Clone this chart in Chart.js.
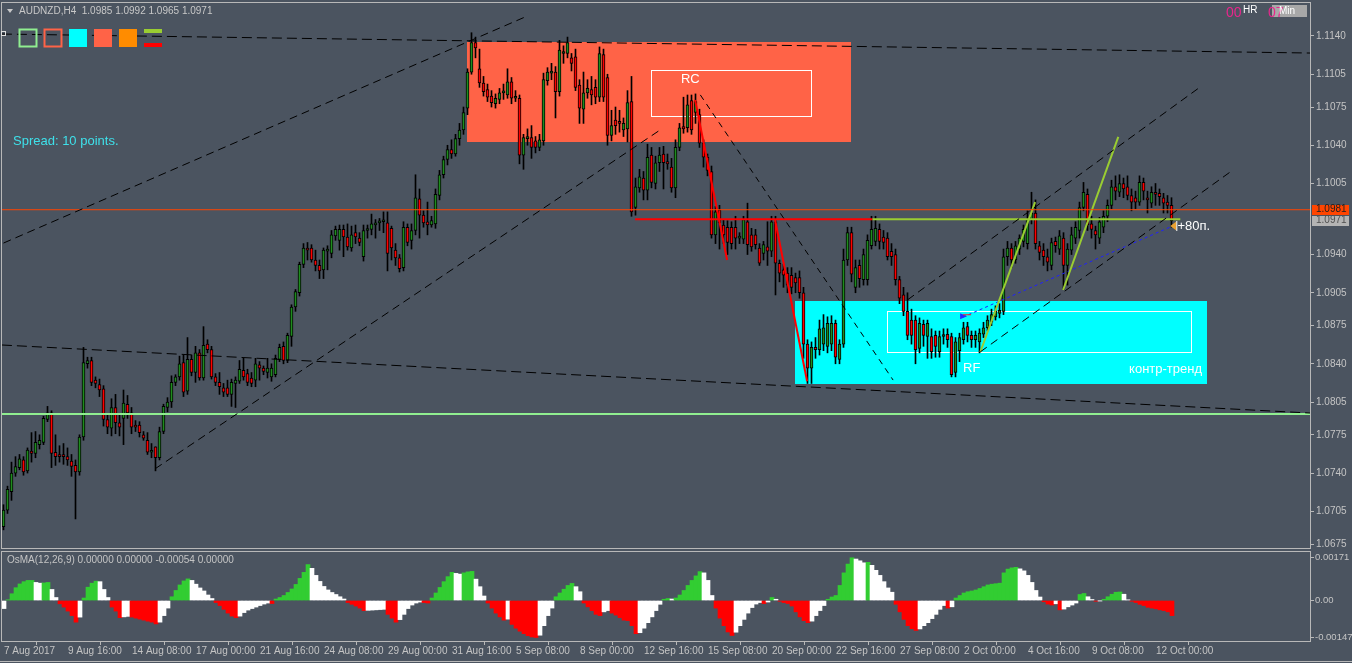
<!DOCTYPE html>
<html>
<head>
<meta charset="utf-8">
<script src="https://cdn.jsdelivr.net/npm/chart.js@4.4.1/dist/chart.umd.min.js"></script>
<style>
  html, body { margin: 0; padding: 0; background: #4b5460; overflow: hidden; }
  #wrap { position: relative; width: 1352px; height: 663px; }
  canvas { position: absolute; left: 0; }
  #main { top: 0; }
  #osma { top: 550px; }
</style>
</head>
<body>
<div id="wrap">
  <canvas id="main" width="1352" height="550"></canvas>
  <canvas id="osma" width="1352" height="113"></canvas>
</div>
<script>
// AUDNZD H4 candles, prices in points above 1.0000 (1.0691 -> 691)
const opens = [
  691,706,723,740,745,752,742,760,758,766, 768,789,795,759,757,756,755,751,747,741,
  773,840,843,825,821,817,789,781,800,786, 790,803,795,784,784,775,770,759,764,754,
  778,800,805,823,828,841,815,844,832,850, 827,858,853,828,823,818,818,812,822,824,
  834,831,827,825,839,836,832,828,830,844, 856,843,865,892,905,931,946,946,935,930,
  926,943,941,957,953,963,956,946,960,955, 938,962,963,967,969,970,969,964,944,937,
  928,965,953,962,991,976,970,967,968,994, 1013,1027,1036,1032,1046,1054,1074,1107,1134,1110,
  1097,1091,1085,1078,1082,1088,1086,1098,1083,1083, 1031,1046,1047,1044,1038,1044,1099,1106,1107,1089,
  1124,1124,1120,1121,1095,1073,1088,1091,1093,1084, 1123,1102,1049,1063,1061,1054,1055,1080,983,1001,
  1010,999,1031,1005,1024,1032,1025,1020,1001,1038, 1057,1056,1081,1070,1068,1042,1029,1016,958,981,
  967,965,965,965,955,954,970,958,958,946, 941,947,943,970,932,926,923,921,919,919,
  905,858,836,855,853,858,856,858,877,844, 858,935,960,910,930,917,917,948,952,963,
  956,955,943,940,917,903,888,880,880,854, 876,865,865,866,851,865,867,865,832,852,
  862,874,866,862,860,867,873,878,883,886, 888,938,946,935,945,952,950,972,978,948,
  944,938,930,952,945,955,930,944,955,962, 983,995,968,962,955,965,975,985,1002,997,
  1005,1002,994,992,988,1006,992,987,997,996, 992,988,985
];
const highs = [
  711,728,750,755,757,755,763,777,778,775, 792,801,797,775,765,767,763,757,752,775,
  855,846,846,828,826,820,793,808,812,793, 816,811,800,788,787,778,777,767,764,782,
  803,809,829,830,847,848,864,848,856,853, 874,862,856,831,832,822,825,826,828,843,
  845,835,832,845,842,838,845,840,848,858, 860,868,894,908,933,950,951,949,944,935,
  946,948,962,966,967,967,968,966,967,960, 967,967,977,972,973,979,979,966,950,940,
  970,968,968,1013,1000,980,988,975,1000,1017, 1030,1040,1045,1050,1060,1075,1110,1143,1139,1128,
  1103,1096,1090,1087,1092,1096,1110,1102,1090,1086, 1050,1055,1058,1048,1050,1106,1111,1115,1112,1136,
  1131,1139,1124,1128,1100,1107,1100,1103,1100,1130, 1128,1105,1072,1075,1072,1065,1090,1103,1010,1018,
  1016,1041,1038,1030,1038,1039,1032,1028,1045,1060, 1084,1086,1086,1087,1073,1045,1032,1021,984,985,
  972,971,970,975,960,975,987,964,963,950, 952,970,975,975,935,931,928,928,923,925,
  910,862,860,864,880,885,883,884,880,862, 945,965,965,935,935,945,958,975,975,968,
  962,960,950,945,920,910,905,890,884,882, 880,880,872,870,870,872,872,868,864,868,
  878,878,870,870,872,878,884,890,893,895, 945,952,950,952,958,967,980,997,990,952,
  950,945,955,956,962,960,950,965,970,988, 1006,1000,975,966,974,980,990,1008,1012,1013,
  1010,1012,1000,998,1012,1010,998,1002,1005,1000, 996,994,992
];
const lows = [
  688,703,715,737,743,738,740,750,754,762, 766,787,745,747,750,748,747,737,698,738,
  770,836,820,818,810,783,776,774,776,774, 766,790,776,778,773,770,757,754,742,752,
  776,796,800,820,825,810,812,829,823,825, 825,850,826,820,812,810,810,801,800,822,
  825,820,819,819,825,830,827,824,828,842, 840,841,856,888,902,928,935,933,925,918,
  918,926,937,953,944,938,944,943,950,948, 934,955,958,955,962,960,925,935,930,924,
  925,948,945,958,955,965,958,965,964,990, 1010,1022,1028,1030,1040,1050,1068,1105,1120,1093,
  1085,1080,1075,1074,1078,1082,1083,1078,1080,1023, 1018,1040,1028,1033,1035,1040,1095,1100,1065,1085,
  1115,1120,1108,1090,1060,1060,1083,1077,1078,1080, 1080,1040,1044,1050,1052,1048,1043,975,976,997,
  990,990,1001,1000,1016,1000,1018,997,992,1035, 1051,1052,1050,1060,1038,1020,1012,955,950,945,
  950,940,945,945,950,950,940,943,945,930, 935,930,938,903,915,910,905,904,905,900,
  845,822,822,845,848,852,850,852,840,840, 855,930,915,905,910,912,912,945,948,945,
  945,935,930,912,895,884,862,858,840,850, 856,845,845,846,846,858,855,828,828,842,
  858,860,855,855,850,864,870,875,880,882, 885,930,928,932,940,947,945,968,945,935,
  930,925,926,942,940,908,912,940,950,955, 980,962,955,945,950,960,970,982,990,993,
  992,990,980,982,985,990,978,983,985,985, 978,978,965
];
const closes = [
  706,725,740,746,753,741,761,758,768,770, 790,795,758,755,755,755,752,746,741,773,
  841,843,823,822,816,789,782,800,786,782, 804,795,782,782,777,772,759,760,754,778,
  801,805,823,828,840,814,844,832,850,827, 857,853,828,823,819,814,812,823,825,835,
  828,823,822,840,836,833,836,836,845,855, 843,866,892,906,931,946,944,935,930,925,
  944,945,958,963,963,956,947,958,956,951, 962,963,968,969,970,970,941,946,937,927,
  965,951,962,992,976,969,967,971,995,1013, 1027,1036,1032,1046,1054,1070,1107,1134,1129,1097,
  1089,1084,1079,1083,1088,1088,1098,1083,1084,1031, 1047,1048,1038,1038,1045,1100,1107,1108,1089,1127,
  1125,1134,1115,1093,1074,1088,1092,1086,1084,1124, 1084,1049,1058,1058,1060,1060,1079,979,1002,1011,
  999,1029,1006,1024,1031,1024,1023,1001,1038,1056, 1055,1077,1054,1080,1042,1029,1017,958,979,969,
  958,951,950,955,956,972,949,947,949,932, 949,943,970,932,923,921,912,910,914,905,
  858,836,855,853,872,873,877,877,846,858, 935,960,922,928,918,940,953,963,964,952,
  951,938,938,917,900,888,866,866,853,877, 866,877,851,856,865,866,862,830,860,864,
  873,866,862,866,868,873,880,885,888,889, 938,946,935,948,955,963,972,978,950,942,
  938,933,951,948,957,930,945,958,965,983, 997,967,963,958,970,975,985,1002,998,1005,
  1000,994,988,988,1006,998,990,997,995,993, 987,985,971
];

// OsMA(12,26,9) histogram, in units of 0.00001
const osma = [
  -32,3,27,51,66,75,80,80,72,69, 70,72,44,12,-13,-26,-42,-60,-86,-66,
  10,53,69,77,75,44,12,-26,-42,-68, -65,-63,-66,-70,-74,-78,-82,-86,-93,-86,
  -60,-30,15,40,62,78,86,80,65,50, 38,22,8,-8,-20,-35,-50,-62,-68,-62,
  -48,-38,-32,-26,-20,-14,-10,-12,6,12, 20,32,46,64,88,112,143,128,100,76,
  56,42,32,24,15,6,-8,-15,-22,-30, -40,-39,-38,-37,-36,-35,-55,-70,-86,-76,
  -55,-32,-18,-10,-6,-8,-10,10,30,52, 75,95,112,108,105,110,114,116,85,55,
  18,-10,-30,-50,-65,-78,-74,-95,-110,-122, -132,-140,-145,-147,-138,-100,-60,-30,15,30,
  45,60,68,55,35,-10,-25,-40,-55,-60, -45,-40,-50,-58,-68,-78,-80,-100,-132,-128,
  -110,-88,-65,-40,-15,5,8,6,10,22, 40,60,80,98,115,110,80,20,-30,-70,
  -100,-125,-139,-126,-100,-75,-50,-28,-14,-8, -12,-6,12,5,-3,-8,-12,-22,-45,-65,
  -80,-88,-82,-60,-40,-20,5,14,20,60, 110,145,170,165,158,150,152,140,120,100,
  75,50,33,-15,-45,-75,-100,-112,-119,-113, -100,-88,-72,-55,-35,-20,-30,-25,10,20,
  30,35,38,42,48,55,62,65,67,69, 110,125,130,132,126,118,100,72,40,14,
  -5,-14,-18,-13,-37,-34,-25,-18,-10,24, 28,15,4,-3,-1,5,15,25,33,34,
  25,3,-3,-8,-15,-20,-27,-30,-33,-37, -40,-45,-60
];

// time axis: bar index of each label and its text
const timeTickBars = [0,16,32,48,64,80,96,112,128,144,160,176,192,208,224,240,256,272,288];
const timeTickLabels = ['7 Aug 2017','9 Aug 16:00','14 Aug 08:00','17 Aug 00:00','21 Aug 16:00',
  '24 Aug 08:00','29 Aug 00:00','31 Aug 16:00','5 Sep 08:00','8 Sep 00:00','12 Sep 16:00',
  '15 Sep 08:00','20 Sep 00:00','22 Sep 16:00','27 Sep 08:00','2 Oct 00:00','4 Oct 16:00',
  '9 Oct 08:00','12 Oct 00:00'];
const priceTicks = [1.1140,1.1105,1.1075,1.1040,1.1005,1.0940,1.0905,1.0875,1.0840,1.0805,1.0775,1.0740,1.0705,1.0675];
const osmaTicks = [0.00171, 0, -0.00147];
const osmaTickLabels = ['0.00171', '0.00', '-0.00147'];

// objects drawn on the chart, as [bar index, points] pairs
const zones = [
  { x0: 115.9, x1: 211.9, p0: 1134.5, p1: 1043.0, fill: '#ff6347' },
  { x0: 197.9, x1: 300.9, p0: 897.4, p1: 821.5, fill: '#00ffff' }
];
const frames = [
  { x0: 161.9, x1: 201.9, p0: 1108.9, p1: 1066.8 },
  { x0: 220.9, x1: 296.9, p0: 888.3, p1: 850.8 }
];
const drawnLines = [
  { pts: [[-0.4, 1141.8], [326.7, 1124.4]], color: '#000000', width: 1, dash: [10, 5] },
  { pts: [[0, 950.5], [130.4, 1157.4]], color: '#000000', width: 1, dash: [8, 5] },
  { pts: [[-0.4, 857.2], [326.7, 794.9]], color: '#000000', width: 1, dash: [10, 5] },
  { pts: [[37.9, 743.9], [164.2, 1054.1]], color: '#000000', width: 1, dash: [8, 5] },
  { pts: [[174.2, 1086.1], [222.4, 825.1]], color: '#000000', width: 1, dash: [6, 5] },
  { pts: [[226, 898.5], [299.2, 1093.4]], color: '#000000', width: 1, dash: [8, 5] },
  { pts: [[244.2, 850.9], [306.7, 1015.6]], color: '#000000', width: 1, dash: [8, 5] },
  { pts: [[-0.4, 981], [326.7, 981]], color: '#ff4500', width: 1 },
  { pts: [[-0.4, 794.0], [326.7, 794.0]], color: '#90ee90', width: 2 },
  { pts: [[157.9, 972.3], [217.2, 972.3]], color: '#ff0000', width: 2 },
  { pts: [[217.2, 972.3], [294.2, 972.3]], color: '#9acd32', width: 2 },
  { pts: [[172.9, 1081.4], [180.9, 935]], color: '#ff0000', width: 2 },
  { pts: [[192.9, 971.6], [200.9, 824]], color: '#ff0000', width: 2 },
  { pts: [[244.2, 850.8], [257.9, 988.0]], color: '#9acd32', width: 2 },
  { pts: [[264.9, 907.5], [278.7, 1047.6]], color: '#9acd32', width: 2 },
  { pts: [[239.9, 882.8], [291.7, 965.2]], color: '#2020ff', width: 1, dash: [3, 3] }
];
const chartTexts = [
  { text: 'RC', bar: 171.7, p: 1100.7, align: 'center' },
  { text: 'RF', bar: 239.9, p: 836.1, align: 'left' },
  { text: 'контр-тренд', bar: 281.4, p: 835.2, align: 'left' },
  { text: '+80п.', bar: 293.5, p: 966.1, align: 'left' }
];

const toPrice = p => 1 + p / 10000;
const fontUI = '"Liberation Sans", Arial, sans-serif';
const axisText = '#c4c4c4';
const frameColor = '#b8b8b8';
Chart.defaults.font.family = fontUI;

const wicks = highs.map((h, i) => ({ x: i, y: [toPrice(lows[i]), toPrice(h)] }));
const bodies = opens.map((o, i) => ({ x: i, y: [toPrice(Math.min(o, closes[i])), toPrice(Math.max(o, closes[i]))] }));
const bodyColors = opens.map((o, i) => closes[i] >= o ? '#1e8c1e' : '#ff0000');

const lineDatasets = drawnLines.map(l => ({
  type: 'line',
  data: l.pts.map(([x, p]) => ({ x, y: toPrice(p) })),
  borderColor: l.color,
  borderWidth: l.width,
  borderDash: l.dash || [],
  pointRadius: 0,
  fill: false,
  order: 1
}));

// axes must not add room for their end labels: the panels keep MT4's exact frame
const noLabelPadding = s => { s.paddingTop = 0; s.paddingBottom = 0; s.paddingLeft = 0; s.paddingRight = 0; };

function text(ctx, s, x, y, color, size, align) {
  ctx.font = size + 'px ' + fontUI;
  ctx.fillStyle = color;
  ctx.textAlign = align || 'left';
  ctx.textBaseline = 'middle';
  ctx.fillText(s, x, y);
}

const mainDecor = {
  id: 'mainDecor',
  beforeDatasetsDraw(chart) {
    const { ctx, chartArea: a, scales: { x, y } } = chart;
    ctx.save();
    ctx.beginPath();
    ctx.rect(a.left, a.top, a.right - a.left, a.bottom - a.top);
    ctx.clip();
    zones.forEach(z => {
      const l = x.getPixelForValue(z.x0), r = x.getPixelForValue(z.x1);
      const t = y.getPixelForValue(toPrice(z.p0)), b = y.getPixelForValue(toPrice(z.p1));
      ctx.fillStyle = z.fill;
      ctx.fillRect(Math.round(l), Math.round(t), Math.round(r - l), Math.round(b - t));
    });
    ctx.strokeStyle = '#ffffff';
    ctx.lineWidth = 1;
    frames.forEach(f => {
      const l = x.getPixelForValue(f.x0), r = x.getPixelForValue(f.x1);
      const t = y.getPixelForValue(toPrice(f.p0)), b = y.getPixelForValue(toPrice(f.p1));
      ctx.strokeRect(Math.round(l) + 0.5, Math.round(t) + 0.5, Math.round(r - l), Math.round(b - t));
    });
    ctx.restore();
  },
  afterDatasetsDraw(chart) {
    const { ctx, scales: { x, y } } = chart;
    ctx.save();
    chartTexts.forEach(t => text(ctx, t.text, x.getPixelForValue(t.bar), y.getPixelForValue(toPrice(t.p)), '#ffffff', 13, t.align));
    // arrow next to +80
    const ax = x.getPixelForValue(292.2), ay = y.getPixelForValue(toPrice(966.1));
    ctx.beginPath();
    ctx.moveTo(ax - 2, ay);
    ctx.lineTo(ax + 4, ay - 4.5);
    ctx.lineTo(ax + 4, ay + 4.5);
    ctx.closePath();
    ctx.fillStyle = '#e8a030';
    ctx.fill();
    ctx.strokeStyle = '#ffffff';
    ctx.beginPath();
    ctx.moveTo(ax + 4.5, ay - 5);
    ctx.lineTo(ax + 4.5, ay + 5);
    ctx.stroke();
    // small arrow at start of the blue line
    const bx = x.getPixelForValue(239.9), by = y.getPixelForValue(toPrice(883.5));
    ctx.fillStyle = '#2030ff';
    ctx.beginPath();
    ctx.moveTo(bx - 3, by - 3);
    ctx.lineTo(bx + 4, by);
    ctx.lineTo(bx - 3, by + 3);
    ctx.closePath();
    ctx.fill();
    ctx.strokeStyle = '#ff2020';
    ctx.beginPath();
    ctx.moveTo(bx, by - 1.5);
    ctx.lineTo(bx + 8, by - 1.5);
    ctx.stroke();
    ctx.restore();
  },
  afterDraw(chart) {
    const { ctx, chartArea: a, scales: { y } } = chart;
    ctx.save();
    ctx.strokeStyle = frameColor;
    ctx.lineWidth = 1;
    ctx.strokeRect(a.left - 0.5, a.top - 0.5, a.right - a.left + 1, a.bottom - a.top + 1);

    // header
    ctx.fillStyle = '#c8c8c8';
    ctx.beginPath();
    ctx.moveTo(7, 9); ctx.lineTo(13, 9); ctx.lineTo(10, 13); ctx.closePath();
    ctx.fill();
    text(ctx, 'AUDNZD,H4  1.0985 1.0992 1.0965 1.0971', 19, 11, '#c8c8c8', 10);

    // object palette
    ctx.lineWidth = 2;
    ctx.strokeStyle = '#90ee90'; ctx.strokeRect(19.5, 29.5, 17, 17);
    ctx.strokeStyle = '#ff6347'; ctx.strokeRect(44.5, 29.5, 17, 17);
    ctx.fillStyle = '#00ffff'; ctx.fillRect(69, 29, 18, 18);
    ctx.fillStyle = '#ff6347'; ctx.fillRect(94, 29, 18, 18);
    ctx.fillStyle = '#ff8c00'; ctx.fillRect(119, 29, 18, 18);
    ctx.fillStyle = '#9acd32'; ctx.fillRect(144, 29, 18, 4);
    ctx.fillStyle = '#ff0000'; ctx.fillRect(144, 43, 18, 4);
    ctx.lineWidth = 1;
    ctx.strokeStyle = '#dddddd'; ctx.strokeRect(1.5, 31.5, 4, 4);

    text(ctx, 'Spread: 10 points.', 13, 141, '#3ee0ea', 13);

    // clock
    ctx.fillStyle = '#a8a8a8'; ctx.fillRect(1272, 5, 35, 12);
    text(ctx, '00', 1226, 13, '#e8268c', 14);
    text(ctx, 'HR', 1243, 10, '#ffffff', 10);
    text(ctx, '07', 1268, 13, '#e8268c', 14);
    text(ctx, 'Min', 1279, 11, '#ffffff', 10);

    // price tags on the axis
    const y1 = y.getPixelForValue(1.0981);
    ctx.fillStyle = '#ff4500'; ctx.fillRect(1312, Math.round(y1) - 5, 37, 10);
    text(ctx, '1.0981', 1316, y1, '#202020', 10);
    const y2 = y.getPixelForValue(1.0971);
    ctx.fillStyle = '#b4b4b4'; ctx.fillRect(1312, Math.round(y2) - 5, 37, 10);
    text(ctx, '1.0971', 1316, y2, '#505050', 10);
    ctx.restore();
  }
};

new Chart(document.getElementById('main'), {
  type: 'bar',
  data: {
    datasets: [
      { label: 'wicks', data: wicks, backgroundColor: '#000000', barThickness: 1, grouped: false, order: 3 },
      { label: 'bodies', data: bodies, backgroundColor: bodyColors, borderColor: '#000000', borderWidth: 1,
        borderSkipped: false, barThickness: 3, grouped: false, minBarLength: 2, order: 2 },
      ...lineDatasets
    ]
  },
  options: {
    responsive: false,
    animation: false,
    layout: { padding: { left: 2, top: 3, bottom: 2, right: 0 } },
    plugins: { legend: { display: false }, tooltip: { enabled: false } },
    scales: {
      x: { type: 'linear', min: -0.375, max: 326.625, offset: false, display: false },
      y: {
        position: 'right',
        min: 1.06714, max: 1.11702,
        afterFit: s => { s.width = 42; noLabelPadding(s); },
        afterBuildTicks: s => { s.ticks = priceTicks.map(v => ({ value: v })); },
        ticks: { color: axisText, font: { size: 10 }, padding: 2, callback: v => Number(v).toFixed(4) },
        grid: { drawOnChartArea: false, tickLength: 4, color: frameColor },
        border: { color: frameColor }
      }
    }
  },
  plugins: [mainDecor]
});

const osmaColors = osma.map((v, i) => {
  const prev = i ? osma[i - 1] : -Infinity;
  if (v >= 0) return v >= prev ? '#32cd32' : '#ffffff';
  return v <= prev ? '#ff0000' : '#ffffff';
});

const osmaDecor = {
  id: 'osmaDecor',
  afterDraw(chart) {
    const { ctx, chartArea: a } = chart;
    ctx.save();
    ctx.strokeStyle = frameColor;
    ctx.lineWidth = 1;
    ctx.strokeRect(a.left - 0.5, a.top - 0.5, a.right - a.left + 1, a.bottom - a.top + 1);
    text(ctx, 'OsMA(12,26,9) 0.00000 0.00000 -0.00054 0.00000', 7, 10, '#c4c4c4', 10);
    ctx.fillStyle = frameColor;
    ctx.fillRect(0, 111, 1352, 1);
    ctx.restore();
  }
};

new Chart(document.getElementById('osma'), {
  type: 'bar',
  data: {
    datasets: [{
      label: 'OsMA',
      data: osma.map((v, i) => ({ x: i, y: v / 100000 })),
      backgroundColor: osmaColors,
      barThickness: 4,
      grouped: false
    }]
  },
  options: {
    responsive: false,
    animation: false,
    layout: { padding: { left: 2, top: 2, bottom: 0, right: 0 } },
    plugins: { legend: { display: false }, tooltip: { enabled: false } },
    scales: {
      x: {
        type: 'linear', min: -0.5, max: 326.5, offset: false, position: 'bottom',
        afterBuildTicks: s => { s.ticks = timeTickBars.map(v => ({ value: v })); },
        afterFit: s => { s.height = 22; noLabelPadding(s); },
        ticks: { autoSkip: false, maxRotation: 0, align: 'start', color: axisText, font: { size: 10 }, padding: 0,
                 callback: (v, i) => timeTickLabels[i] },
        grid: { drawOnChartArea: false, tickLength: 4, color: frameColor },
        border: { color: frameColor }
      },
      y: {
        position: 'right',
        min: -0.00161, max: 0.00193,
        afterFit: s => { s.width = 42; noLabelPadding(s); },
        afterBuildTicks: s => { s.ticks = osmaTicks.map(v => ({ value: v })); },
        ticks: { color: axisText, font: { size: 9.5 }, padding: 1, callback: (v, i) => osmaTickLabels[i] },
        grid: { drawOnChartArea: false, tickLength: 4, color: frameColor },
        border: { color: frameColor }
      }
    }
  },
  plugins: [osmaDecor]
});
</script>
</body>
</html>
